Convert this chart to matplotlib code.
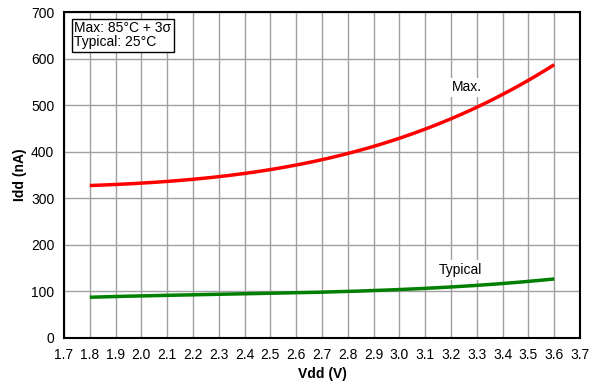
import numpy as np
import matplotlib.pyplot as plt

plt.rcParams['font.family'] = ['Liberation Sans', 'DejaVu Sans']

vdd = [1.8, 2.0, 2.2, 2.4, 2.6, 2.8, 3.0, 3.2, 3.4, 3.6]
idd_max = [327, 333, 341, 354, 371, 396, 428, 471, 525, 586]
idd_typ = [88, 90, 92, 95, 98, 100, 104, 109, 117, 127]

x_ticks = [1.7, 1.8, 1.9, 2.0, 2.1, 2.2, 2.3, 2.4, 2.5, 2.6, 2.7, 2.8, 2.9, 3.0,
           3.1, 3.2, 3.3, 3.4, 3.5, 3.6, 3.7]
y_ticks = [0, 100, 200, 300, 400, 500, 600, 700]


def main():
    fig = plt.figure(figsize=(5.98, 3.83), dpi=100)
    ax = fig.add_axes([0.107, 0.1175, 0.863, 0.851])

    # smooth the curves a bit between read points
    xs = np.linspace(vdd[0], vdd[-1], 200)
    ymax = np.polyval(np.polyfit(vdd, idd_max, 3), xs)
    ytyp = np.polyval(np.polyfit(vdd, idd_typ, 3), xs)
    ax.plot(xs, ymax, color='#ff0000', lw=2.5, solid_capstyle='butt', zorder=3)
    ax.plot(xs, ytyp, color='#008000', lw=2.5, solid_capstyle='butt', zorder=3)

    ax.set_xlim(1.7, 3.7)
    ax.set_ylim(0, 700)
    ax.set_xticks(x_ticks)
    ax.set_xticklabels([f"{t:.1f}" for t in x_ticks])
    ax.set_yticks(y_ticks)
    ax.grid(True, color='#a0a0a0', lw=1)
    ax.tick_params(length=0, labelsize=10, pad=7, colors='black')
    for s in ax.spines.values():
        s.set_linewidth(1.5)
        s.set_color('black')
    ax.set_axisbelow(True)

    ax.set_xlabel("Vdd (V)", fontsize=10, fontweight='bold', labelpad=4)
    ax.set_ylabel("Idd (nA)", fontsize=10, fontweight='bold', labelpad=3)

    ax.text(1.74, 680, "Max: 85°C + 3σ\nTypical: 25°C", fontsize=10, va='top', ha='left',
            linespacing=1.0,
            bbox=dict(boxstyle='square,pad=0.2', fc='white', ec='black', lw=1))
    ax.text(3.262, 538, "Max.", fontsize=10, ha='center', va='center',
            bbox=dict(boxstyle='square,pad=0.2', fc='white', ec='none'))
    ax.text(3.235, 146, "Typical", fontsize=10, ha='center', va='center',
            bbox=dict(boxstyle='square,pad=0.2', fc='white', ec='none'))

    fig.savefig('out.png', dpi=100)


if __name__ == '__main__':
    main()
